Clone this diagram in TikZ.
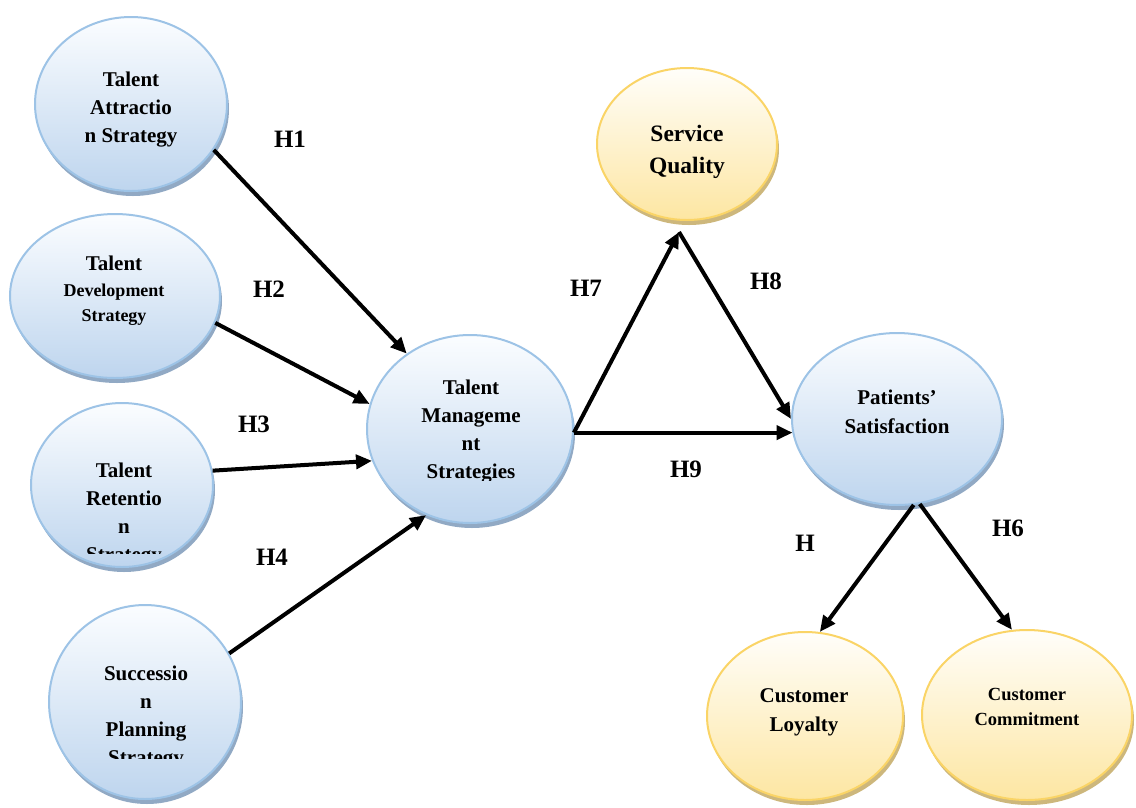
\documentclass[tikz,border=0pt]{standalone}
\usepackage{fontspec}
\setmainfont{Liberation Serif}
\usetikzlibrary{arrows.meta,shadows,shapes.geometric}

\definecolor{bluerim}{HTML}{9DC3E6}
\definecolor{bluetop}{HTML}{FBFDFF}
\definecolor{bluebot}{HTML}{BED5EE}
\definecolor{blueshade}{HTML}{91A9C4}
\definecolor{goldrim}{HTML}{FAD466}
\definecolor{goldtop}{HTML}{FFFEFA}
\definecolor{goldbot}{HTML}{FDE6A2}
\definecolor{goldshade}{HTML}{CDB77C}

\tikzset{
  construct/.style={ellipse, inner sep=0pt, line width=2pt},
  bluebubble/.style={construct, draw=bluerim, top color=bluetop, bottom color=bluebot,
    drop shadow={shadow xshift=2pt, shadow yshift=-5pt, fill=blueshade, opacity=1}},
  goldbubble/.style={construct, draw=goldrim, top color=goldtop, bottom color=goldbot,
    drop shadow={shadow xshift=2pt, shadow yshift=-5pt, fill=goldshade, opacity=1}},
  caption/.style={align=center, inner sep=0pt, font=\bfseries\fontsize{21}{28}\selectfont},
  hyp/.style={inner sep=0pt, font=\bfseries\fontsize{25}{30}\selectfont},
  link/.style={line width=4pt, -{Triangle[length=16pt,width=14pt]}},
}

\begin{document}
\begin{tikzpicture}[x=1pt,y=-1pt]
\useasboundingbox (0,0) rectangle (1136,807);

% constructs
\node[bluebubble, minimum width=192pt, minimum height=174pt] (A) at (131,104) {};
\node[bluebubble, minimum width=210pt, minimum height=164pt] (D) at (115,296) {};
\node[bluebubble, minimum width=182pt, minimum height=164pt] (R) at (122,485) {};
\node[bluebubble, minimum width=192pt, minimum height=194pt] (S) at (145,702) {};
\node[bluebubble, minimum width=206pt, minimum height=188pt] (M) at (470,429) {};
\node[goldbubble, minimum width=180pt, minimum height=152pt] (Q) at (687,144) {};
\node[bluebubble, minimum width=210pt, minimum height=172pt] (P) at (897,419) {};
\node[goldbubble, minimum width=196pt, minimum height=168pt] (L) at (805,716) {};
\node[goldbubble, minimum width=210pt, minimum height=170pt] (C) at (1027,715) {};

% captions
\node[caption] (Atext) at (131,110) {Talent\\Attractio\\n Strategy};
\node[caption, font=\bfseries\fontsize{18}{25.5}\selectfont] (Dtext) at (114,291)
  {{\fontsize{21}{25.5}\selectfont Talent}\\Development\\Strategy};
\begin{scope}
  \clip (0,0) rectangle (1136,553);
  \node[caption] (Rtext) at (124,515) {Talent\\Retentio\\n\\Strategy};
\end{scope}
\begin{scope}
  \clip (0,0) rectangle (1136,758);
  \node[caption] (Stext) at (146,718) {Successio\\n\\Planning\\Strategy};
\end{scope}
\begin{scope}
  \clip (0,0) rectangle (1136,480);
  \node[caption] (Mtext) at (471,432) {Talent\\Manageme\\nt\\Strategies};
\end{scope}
\node[caption, font=\bfseries\fontsize{23.5}{32}\selectfont] (Qtext) at (687,152) {Service\\Quality};
\node[caption, font=\bfseries\fontsize{21}{29}\selectfont] (Ptext) at (897,412) {Patients’\\Satisfaction};
\node[caption, font=\bfseries\fontsize{21}{29}\selectfont] (Ltext) at (804,712) {Customer\\Loyalty};
\node[caption, font=\bfseries\fontsize{18.5}{25}\selectfont] (Ctext) at (1027,707) {Customer\\Commitment};

% hypothesised paths
\coordinate (Qfoot) at (679,232);
\draw[link] (A.-29) -- (M.130);
\draw[link] (D.-15) -- (M.166);
\draw[link] (R.9.5) -- (M.-162);
\draw[link] (S.30.5) -- (M.-117);
\draw[link] (M.-2) -- (Qfoot);
\draw[link] (Qfoot) -- (P.180);
\draw[link] (M.-2) -- (M.-2 -| P.-172);
\draw[link] (P.-79) -- (L.80);
\draw[link] (P.-75) -- (C.100);

% path labels
\node[hyp] (h1) at (290,139) {H1};
\node[hyp] (h2) at (269,289) {H2};
\node[hyp] (h3) at (254,424) {H3};
\node[hyp] (h4) at (272,557) {H4};
\node[hyp] (h7) at (586,288) {H7};
\node[hyp] (h8) at (766,281) {H8};
\node[hyp] (h9) at (686,469) {H9};
\node[hyp] (h5) at (805,543) {H};
\node[hyp] (h6) at (1008,528) {H6};
\end{tikzpicture}
\end{document}
